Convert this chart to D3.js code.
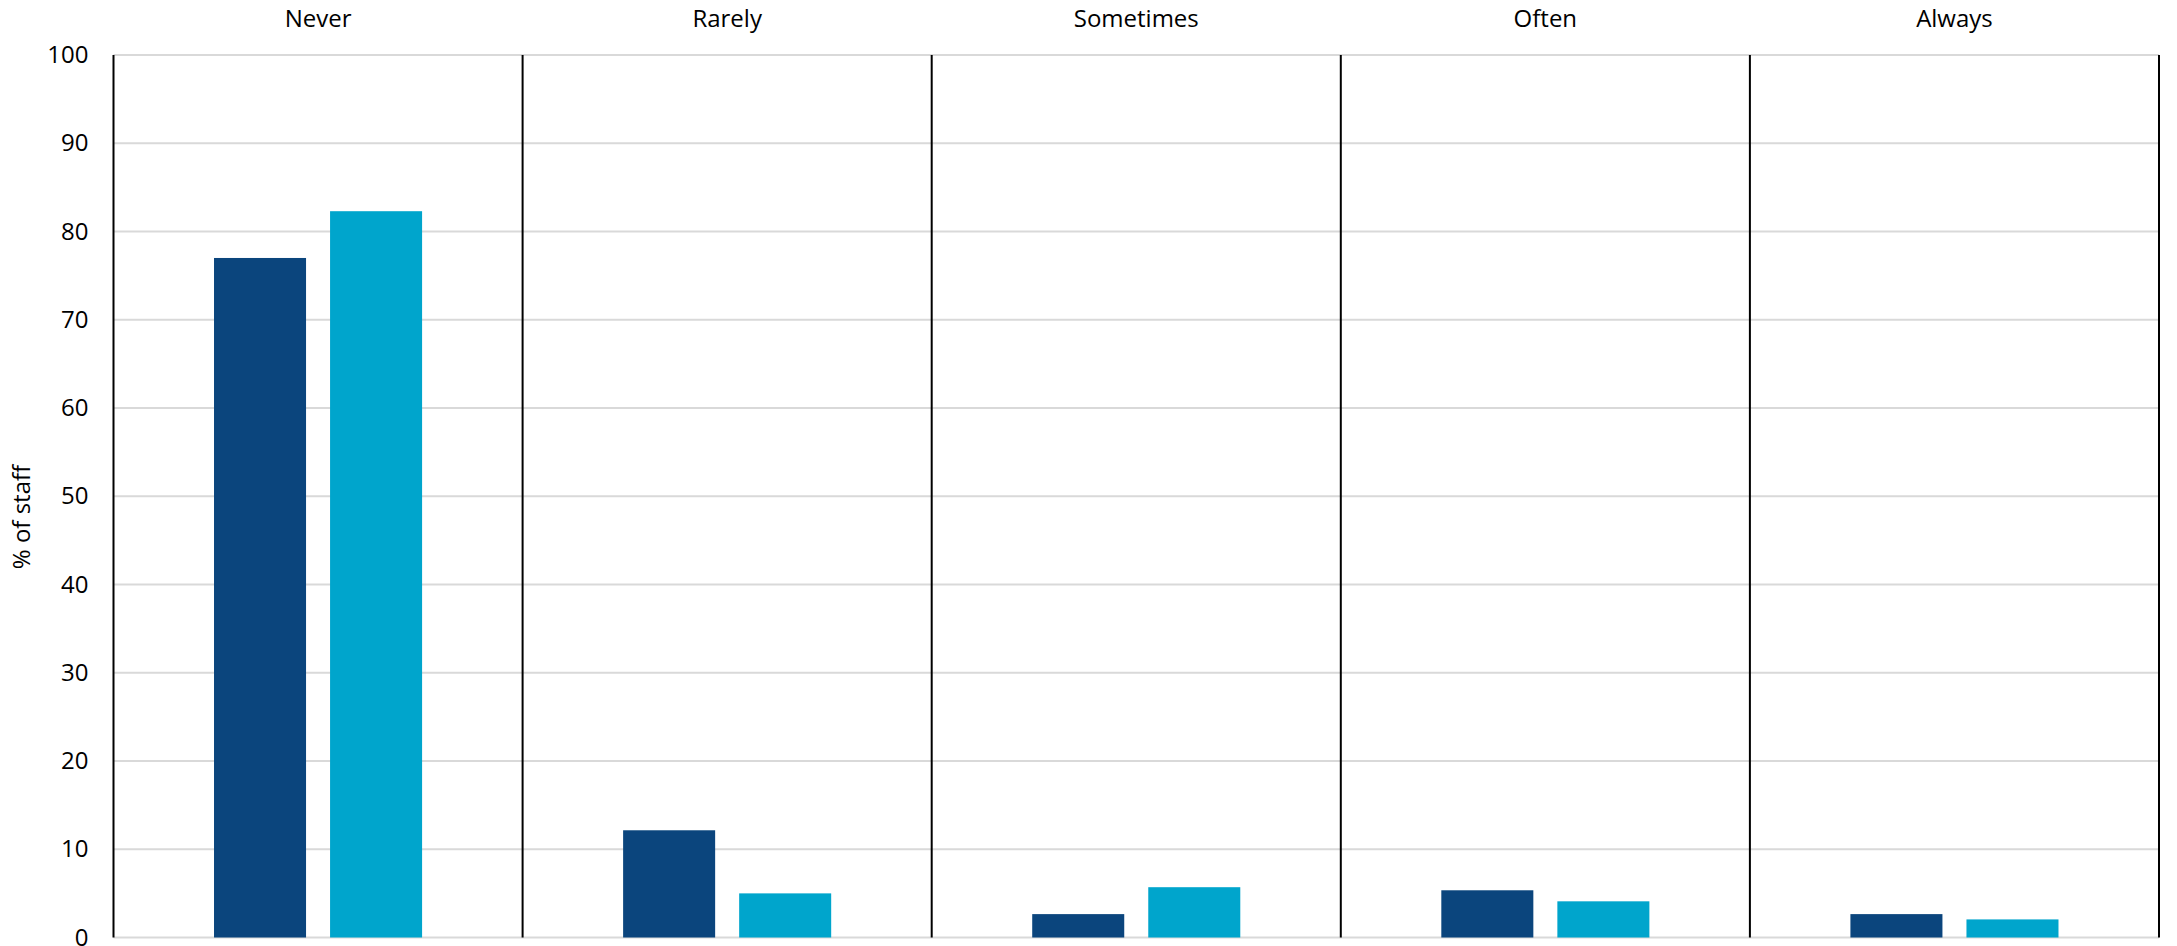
<!DOCTYPE html>
<html>
<head>
<meta charset="utf-8">
<script src="https://cdn.jsdelivr.net/npm/d3@7"></script>
<style>
  body { margin: 0; background: #fff; }
  text { font-family: "Open Sans", "Noto Sans", sans-serif; fill: #000; }
</style>
</head>
<body>
<svg id="chart"></svg>
<script>
// data
var categories = ['Never', 'Rarely', 'Sometimes', 'Often', 'Always'];
var seriesNames = ['A', 'B'];
var seriesA = [77.0, 12.15, 2.65, 5.35, 2.65];
var seriesB = [82.3, 5.0, 5.7, 4.1, 2.05];
var yTicks = [0, 10, 20, 30, 40, 50, 60, 70, 80, 90, 100];
var colors = ['#0b457d', '#00a5cc'];

var W = 2177, H = 946;
var margin = { top: 55, right: 18, bottom: 8.5, left: 113.5 };
var width = W - margin.left - margin.right;
var height = H - margin.top - margin.bottom;

var svg = d3.select('#chart')
    .attr('width', W)
    .attr('height', H);

var g = svg.append('g')
    .attr('transform', 'translate(' + margin.left + ',' + margin.top + ')');

var x0 = d3.scaleBand().domain(categories).range([0, width]).padding(0);
var groupW = x0.bandwidth() * 0.5086;
var x1 = d3.scaleBand().domain(seriesNames)
    .range([(x0.bandwidth() - groupW) / 2, (x0.bandwidth() + groupW) / 2])
    .paddingInner(0.207).paddingOuter(0);
var y = d3.scaleLinear().domain([0, 100]).range([height, 0]);

// horizontal gridlines
g.append('g')
    .selectAll('line')
    .data(yTicks)
    .enter().append('line')
    .attr('x1', 0).attr('x2', width)
    .attr('y1', function (d) { return y(d); })
    .attr('y2', function (d) { return y(d); })
    .attr('stroke', '#d9d9d9')
    .attr('stroke-width', 2);

// y tick labels
var yAxis = d3.axisLeft(y).tickValues(yTicks).tickSize(0).tickPadding(25);
g.append('g')
    .attr('class', 'axis axis--y')
    .call(yAxis)
    .call(function (a) { a.select('.domain').remove(); })
    .selectAll('text')
    .style('font-size', '24px');

// bars
var rows = categories.map(function (c, i) {
    return { cat: c, values: [{ s: 'A', v: seriesA[i] }, { s: 'B', v: seriesB[i] }] };
});

var grp = g.selectAll('.grp')
    .data(rows)
    .enter().append('g')
    .attr('class', 'grp')
    .attr('transform', function (d) { return 'translate(' + x0(d.cat) + ',0)'; });

grp.selectAll('rect')
    .data(function (d) { return d.values; })
    .enter().append('rect')
    .attr('x', function (d) { return x1(d.s); })
    .attr('width', x1.bandwidth())
    .attr('y', function (d) { return y(d.v); })
    .attr('height', function (d) { return y(0) - y(d.v); })
    .attr('fill', function (d, i) { return colors[i]; });

// panel dividers + outer left/right lines
var edges = categories.map(function (c) { return x0(c); }).concat([width]);
g.append('g')
    .selectAll('line')
    .data(edges)
    .enter().append('line')
    .attr('x1', function (d) { return d; })
    .attr('x2', function (d) { return d; })
    .attr('y1', 0).attr('y2', height)
    .attr('stroke', '#000')
    .attr('stroke-width', 2);

// category labels on top
g.append('g')
    .selectAll('text')
    .data(categories)
    .enter().append('text')
    .attr('x', function (d) { return x0(d) + x0.bandwidth() / 2; })
    .attr('y', -28)
    .attr('text-anchor', 'middle')
    .style('font-size', '24px')
    .text(function (d) { return d; });

// y axis title
svg.append('text')
    .attr('transform', 'translate(30,' + 517 + ') rotate(-90)')
    .attr('text-anchor', 'middle')
    .style('font-size', '24px')
    .text('% of staff');
</script>
</body>
</html>
